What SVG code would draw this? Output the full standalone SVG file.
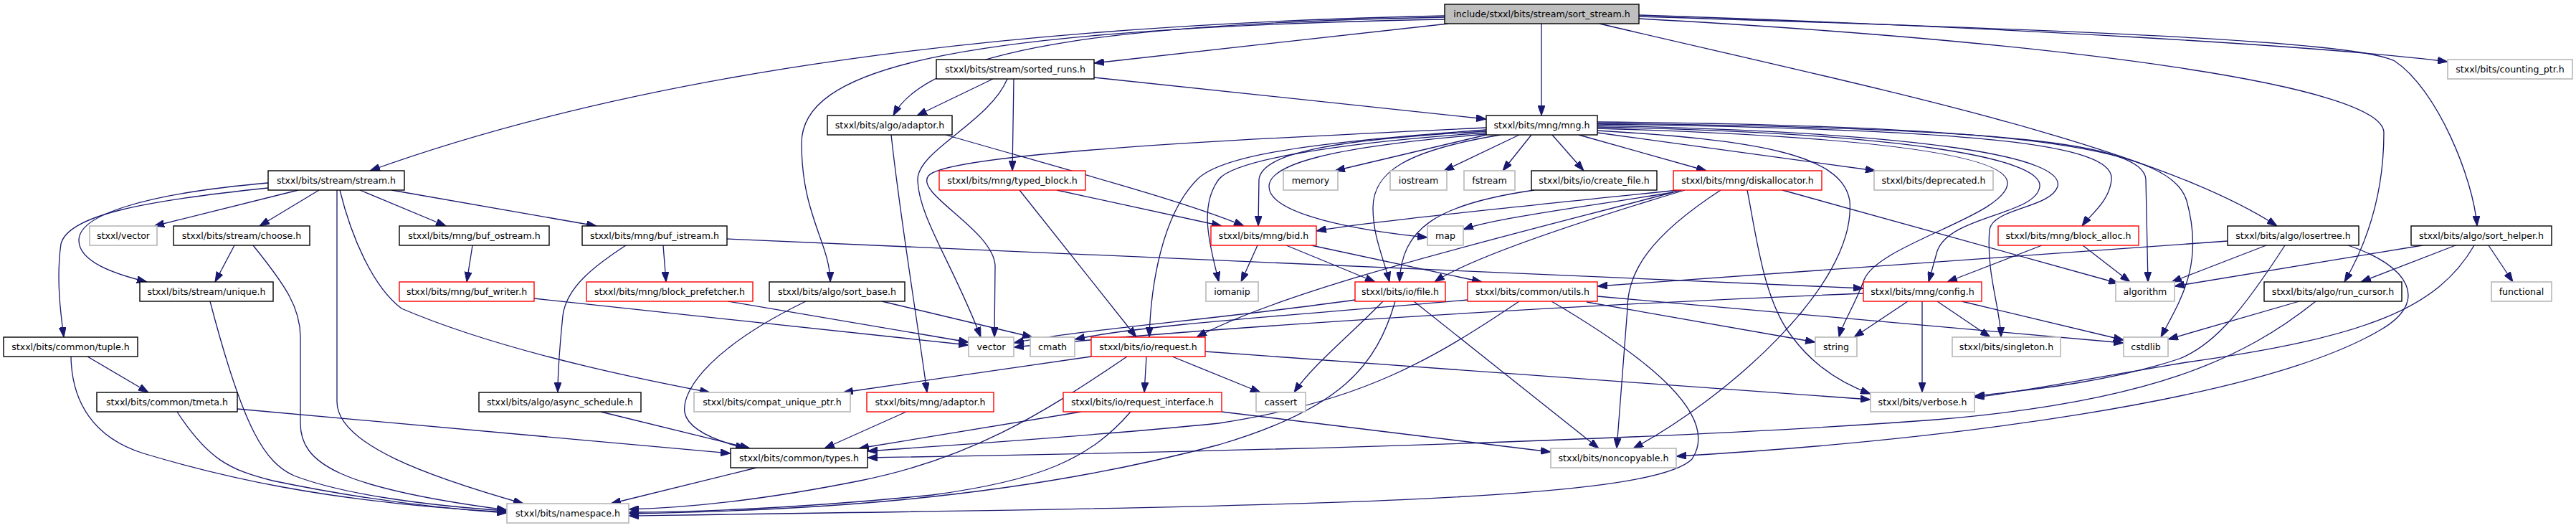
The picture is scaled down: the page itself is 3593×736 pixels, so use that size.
<svg xmlns="http://www.w3.org/2000/svg" width="3593" height="736" viewBox="0 0 3593 736">
<style>
.n rect{fill:#fff;stroke-width:1.4}
.k rect{stroke:#000}
.r rect{stroke:#ff0000}
.g rect{stroke:#bfbfbf;stroke-width:1.8}
.root rect{fill:#bfbfbf;stroke:#000}
.n text{font-family:"DejaVu Sans",sans-serif;font-size:12.6px;fill:#000;text-anchor:middle}
#edges path{fill:none;stroke:#191970;stroke-width:1.3;marker-end:url(#a)}
</style>
<defs>
<marker id="a" markerUnits="userSpaceOnUse" viewBox="0 0 14 10" markerWidth="14" markerHeight="10" refX="14" refY="5" orient="auto"><path d="M0,0 L14,5 L0,10 z" fill="#191970" stroke="#191970" stroke-width="1"/></marker>
</defs>
<rect x="0" y="0" width="3593" height="736" fill="#fff"/>
<g id="edges">
<path d="M2015,22 C1400,35 900,100 516,238"/>
<path d="M2015,24 C1600,32 1300,60 1246,161"/>
<path d="M2015,27 C1300,40 1118,100 1118,200 C1118,300 1158,340 1158,393"/>
<path d="M2020,33 L1526,88"/>
<path d="M2150,33 L2150,161"/>
<path d="M2231,33 C2600,120 3000,200 3176,315"/>
<path d="M2286,21 C2800,38 3250,65 3414,86"/>
<path d="M2286,23 C3000,45 3290,60 3340,85 C3400,125 3450,250 3455,315"/>
<path d="M2286,26 C2900,60 3325,120 3325,185 C3325,280 3295,350 3270,393"/>
<path d="M374,255 C200,270 110,300 110,335 C110,365 160,382 205,393"/>
<path d="M374,262 C200,280 95,300 85,340 C78,390 85,440 89,470"/>
<path d="M416,265 L215,315"/>
<path d="M445,265 L362,315"/>
<path d="M470,265 L470,560 C470,620 600,665 730,702"/>
<path d="M474,265 C490,330 520,400 560,430 C700,490 900,530 990,547"/>
<path d="M502,265 L622,315"/>
<path d="M546,265 L832,315"/>
<path d="M327,342 L300,393"/>
<path d="M353,342 C400,400 419,430 419,470 L419,590 C419,645 470,680 707,711"/>
<path d="M293,420 C340,600 370,645 410,663 C480,690 600,705 707,712"/>
<path d="M122,497 L207,547"/>
<path d="M99,497 C100,560 130,610 200,632 C300,662 450,700 707,714"/>
<path d="M247,574 C290,640 320,655 380,670 C500,695 600,708 707,715"/>
<path d="M331,570 L1019,632"/>
<path d="M659,342 L651,393"/>
<path d="M745,416 L1351,481"/>
<path d="M925,342 L929,393"/>
<path d="M873,342 C830,370 790,400 785,440 C780,490 778,520 778,547"/>
<path d="M1014,333 L2599,402"/>
<path d="M1015,420 L1351,477"/>
<path d="M838,574 L1046,625"/>
<path d="M1385,110 L1279,161"/>
<path d="M1405,110 C1380,170 1280,210 1280,250 C1280,300 1330,370 1368,470"/>
<path d="M1414,110 L1412,238"/>
<path d="M1526,108 L2073,166"/>
<path d="M1319,188 C1500,240 1650,280 1735,315"/>
<path d="M1243,188 C1255,300 1280,450 1293,547"/>
<path d="M1474,265 L1704,315"/>
<path d="M1422,265 L1585,470"/>
<path d="M1230,420 L1440,470"/>
<path d="M1124,420 C1000,480 950,540 955,575 C960,600 1000,615 1040,625"/>
<path d="M1264,574 L1150,625"/>
<path d="M2073,178 C1700,195 1320,215 1295,245 C1275,270 1385,320 1388,370 L1387,470"/>
<path d="M2073,181 C1800,200 1700,220 1670,250 C1620,300 1605,400 1603,470"/>
<path d="M2073,183 C1850,195 1760,215 1756,250 L1755,315"/>
<path d="M2073,185 C1850,200 1720,225 1700,250 C1670,290 1690,350 1700,393"/>
<path d="M2073,187 C1850,205 1770,230 1770,260 C1770,300 1900,322 1991,331"/>
<path d="M2073,188 L1862,238"/>
<path d="M2093,188 C1960,210 1915,240 1915,290 C1915,330 1930,360 1938,393"/>
<path d="M2119,188 L2014,238"/>
<path d="M2136,188 L2096,238"/>
<path d="M2165,188 L2209,238"/>
<path d="M2202,188 L2380,238"/>
<path d="M2228,185 L2616,238"/>
<path d="M2228,182 C2450,195 2570,215 2580,280 C2590,400 2400,560 2278,625"/>
<path d="M2228,179 C2600,190 2800,215 2800,255 C2800,300 2620,340 2600,390 C2585,430 2570,450 2565,470"/>
<path d="M2228,177 C2650,185 2850,220 2845,260 C2840,300 2720,300 2702,350 L2690,393"/>
<path d="M2228,175 C2700,185 2880,220 2870,260 C2860,290 2780,290 2775,320 C2770,380 2790,430 2791,470"/>
<path d="M2228,173 C2750,180 2950,200 2945,250 C2943,280 2915,300 2904,315"/>
<path d="M2228,172 C2800,178 2990,200 2993,250 L2996,393"/>
<path d="M2228,170 C2850,175 3030,210 3050,280 C3075,370 3040,420 3014,470"/>
<path d="M1754,342 L1731,393"/>
<path d="M1794,342 L1918,393"/>
<path d="M1829,342 L2067,393"/>
<path d="M2140,265 C2000,285 1955,320 1952,393"/>
<path d="M2340,265 C2100,290 1900,310 1836,322"/>
<path d="M2334,268 C2200,290 2080,305 2041,320"/>
<path d="M2350,265 C2200,310 2050,360 2001,393"/>
<path d="M2345,265 C2100,330 1800,400 1669,470"/>
<path d="M2400,265 C2300,330 2270,380 2270,430 L2255,625"/>
<path d="M2437,265 C2450,330 2460,420 2500,470 C2530,510 2570,535 2609,549"/>
<path d="M2486,265 L2955,395"/>
<path d="M1890,418 C1700,445 1500,460 1414,478"/>
<path d="M1929,420 C1880,470 1830,510 1805,547"/>
<path d="M1946,420 C1920,510 1870,570 1700,620 C1400,700 1100,712 877,716"/>
<path d="M1972,420 L2230,625"/>
<path d="M2047,418 C1800,440 1600,452 1499,473"/>
<path d="M2119,420 C2000,500 1900,560 1700,590 C1500,610 1300,622 1210,629"/>
<path d="M2164,420 C2300,500 2400,580 2360,640 C2300,700 1800,706 877,719"/>
<path d="M2213,421 L2532,477"/>
<path d="M2228,413 L2962,478"/>
<path d="M2599,409 C2200,425 1700,455 1414,484"/>
<path d="M2661,420 L2586,470"/>
<path d="M2681,420 L2681,547"/>
<path d="M2702,420 L2776,470"/>
<path d="M2736,420 L2962,474"/>
<path d="M2848,342 L2716,393"/>
<path d="M2905,342 L2971,393"/>
<path d="M3107,336 L2228,399"/>
<path d="M3161,342 L3029,393"/>
<path d="M3187,342 C3130,430 3090,480 3040,500 C2950,530 2850,542 2754,552"/>
<path d="M3275,342 C3360,370 3390,420 3320,460 C3150,560 2700,615 2338,636"/>
<path d="M3207,420 L3024,473"/>
<path d="M3230,420 C3130,500 3000,560 2700,585 C2300,615 1700,630 1210,638"/>
<path d="M3379,342 L3033,399"/>
<path d="M3425,342 L3293,393"/>
<path d="M3451,342 C3400,430 3300,470 3050,505 C2900,530 2820,546 2754,554"/>
<path d="M3471,342 L3505,393"/>
<path d="M1522,497 L1176,547"/>
<path d="M1572,497 C1450,580 1350,640 1200,670 C1050,700 950,708 877,710"/>
<path d="M1599,497 L1596,547"/>
<path d="M1635,497 L1758,547"/>
<path d="M1681,490 L2609,557"/>
<path d="M1508,574 L1198,625"/>
<path d="M1577,574 C1520,640 1450,670 1300,690 C1100,710 950,714 877,714"/>
<path d="M1704,574 L2163,630"/>
<path d="M1055,652 L852,702"/>
</g>
<g id="n_root" class="n root"><rect x="2015" y="6" width="271" height="27"/><text x="2150.5" y="24">include/stxxl/bits/stream/sort_stream.h</text></g>
<g id="n_stream" class="n k"><rect x="374" y="238" width="190" height="27"/><text x="469" y="256">stxxl/bits/stream/stream.h</text></g>
<g id="n_sorted_runs" class="n k"><rect x="1306" y="83" width="220" height="27"/><text x="1416" y="101">stxxl/bits/stream/sorted_runs.h</text></g>
<g id="n_algo_adaptor" class="n k"><rect x="1154" y="161" width="174" height="27"/><text x="1241" y="179">stxxl/bits/algo/adaptor.h</text></g>
<g id="n_mng" class="n k"><rect x="2073" y="161" width="155" height="27"/><text x="2150.5" y="179">stxxl/bits/mng/mng.h</text></g>
<g id="n_sort_base" class="n k"><rect x="1073" y="393" width="189" height="27"/><text x="1167.5" y="411">stxxl/bits/algo/sort_base.h</text></g>
<g id="n_losertree" class="n k"><rect x="3107" y="315" width="183" height="27"/><text x="3198.5" y="333">stxxl/bits/algo/losertree.h</text></g>
<g id="n_run_cursor" class="n k"><rect x="3158" y="393" width="192" height="27"/><text x="3254" y="411">stxxl/bits/algo/run_cursor.h</text></g>
<g id="n_sort_helper" class="n k"><rect x="3363" y="315" width="196" height="27"/><text x="3461" y="333">stxxl/bits/algo/sort_helper.h</text></g>
<g id="n_counting_ptr" class="n g"><rect x="3414" y="83" width="174" height="27"/><text x="3501" y="101">stxxl/bits/counting_ptr.h</text></g>
<g id="n_stxxl_vector" class="n g"><rect x="125" y="315" width="94" height="27"/><text x="172" y="333">stxxl/vector</text></g>
<g id="n_choose" class="n k"><rect x="242" y="315" width="190" height="27"/><text x="337" y="333">stxxl/bits/stream/choose.h</text></g>
<g id="n_buf_ostream" class="n k"><rect x="557" y="315" width="209" height="27"/><text x="661.5" y="333">stxxl/bits/mng/buf_ostream.h</text></g>
<g id="n_buf_istream" class="n k"><rect x="812" y="315" width="202" height="27"/><text x="913" y="333">stxxl/bits/mng/buf_istream.h</text></g>
<g id="n_unique" class="n k"><rect x="195" y="393" width="186" height="27"/><text x="288" y="411">stxxl/bits/stream/unique.h</text></g>
<g id="n_tuple" class="n k"><rect x="5" y="470" width="187" height="27"/><text x="98.5" y="488">stxxl/bits/common/tuple.h</text></g>
<g id="n_tmeta" class="n k"><rect x="135" y="547" width="196" height="27"/><text x="233" y="565">stxxl/bits/common/tmeta.h</text></g>
<g id="n_buf_writer" class="n r"><rect x="557" y="393" width="188" height="27"/><text x="651" y="411">stxxl/bits/mng/buf_writer.h</text></g>
<g id="n_block_prefetcher" class="n r"><rect x="818" y="393" width="232" height="27"/><text x="934" y="411">stxxl/bits/mng/block_prefetcher.h</text></g>
<g id="n_async_schedule" class="n k"><rect x="668" y="547" width="226" height="27"/><text x="781" y="565">stxxl/bits/algo/async_schedule.h</text></g>
<g id="n_namespace" class="n g"><rect x="707" y="702" width="170" height="27"/><text x="792" y="720">stxxl/bits/namespace.h</text></g>
<g id="n_typed_block" class="n r"><rect x="1310" y="238" width="204" height="27"/><text x="1412" y="256">stxxl/bits/mng/typed_block.h</text></g>
<g id="n_bid" class="n r"><rect x="1689" y="315" width="147" height="27"/><text x="1762.5" y="333">stxxl/bits/mng/bid.h</text></g>
<g id="n_iomanip" class="n g"><rect x="1682" y="393" width="73" height="27"/><text x="1718.5" y="411">iomanip</text></g>
<g id="n_vector" class="n g"><rect x="1351" y="470" width="63" height="27"/><text x="1382.5" y="488">vector</text></g>
<g id="n_cmath" class="n g"><rect x="1437" y="470" width="62" height="27"/><text x="1468" y="488">cmath</text></g>
<g id="n_request" class="n r"><rect x="1522" y="470" width="159" height="27"/><text x="1601.5" y="488">stxxl/bits/io/request.h</text></g>
<g id="n_compat_unique_ptr" class="n g"><rect x="968" y="547" width="218" height="27"/><text x="1077" y="565">stxxl/bits/compat_unique_ptr.h</text></g>
<g id="n_mng_adaptor" class="n r"><rect x="1209" y="547" width="177" height="27"/><text x="1297.5" y="565">stxxl/bits/mng/adaptor.h</text></g>
<g id="n_request_interface" class="n r"><rect x="1483" y="547" width="221" height="27"/><text x="1593.5" y="565">stxxl/bits/io/request_interface.h</text></g>
<g id="n_cassert" class="n g"><rect x="1752" y="547" width="69" height="27"/><text x="1786.5" y="565">cassert</text></g>
<g id="n_types" class="n k"><rect x="1019" y="625" width="191" height="27"/><text x="1114.5" y="643">stxxl/bits/common/types.h</text></g>
<g id="n_memory" class="n g"><rect x="1790" y="238" width="76" height="27"/><text x="1828" y="256">memory</text></g>
<g id="n_iostream" class="n g"><rect x="1939" y="238" width="79" height="27"/><text x="1978.5" y="256">iostream</text></g>
<g id="n_fstream" class="n g"><rect x="2042" y="238" width="71" height="27"/><text x="2077.5" y="256">fstream</text></g>
<g id="n_create_file" class="n k"><rect x="2136" y="238" width="175" height="27"/><text x="2223.5" y="256">stxxl/bits/io/create_file.h</text></g>
<g id="n_diskallocator" class="n r"><rect x="2334" y="238" width="207" height="27"/><text x="2437.5" y="256">stxxl/bits/mng/diskallocator.h</text></g>
<g id="n_deprecated" class="n g"><rect x="2614" y="238" width="166" height="27"/><text x="2697" y="256">stxxl/bits/deprecated.h</text></g>
<g id="n_map" class="n g"><rect x="1991" y="315" width="50" height="27"/><text x="2016" y="333">map</text></g>
<g id="n_file" class="n r"><rect x="1890" y="393" width="126" height="27"/><text x="1953" y="411">stxxl/bits/io/file.h</text></g>
<g id="n_utils" class="n r"><rect x="2047" y="393" width="181" height="27"/><text x="2137.5" y="411">stxxl/bits/common/utils.h</text></g>
<g id="n_config" class="n r"><rect x="2599" y="393" width="165" height="27"/><text x="2681.5" y="411">stxxl/bits/mng/config.h</text></g>
<g id="n_string" class="n g"><rect x="2532" y="470" width="58" height="27"/><text x="2561" y="488">string</text></g>
<g id="n_verbose" class="n g"><rect x="2609" y="547" width="145" height="27"/><text x="2681.5" y="565">stxxl/bits/verbose.h</text></g>
<g id="n_noncopyable" class="n g"><rect x="2163" y="625" width="175" height="27"/><text x="2250.5" y="643">stxxl/bits/noncopyable.h</text></g>
<g id="n_block_alloc" class="n r"><rect x="2787" y="315" width="196" height="27"/><text x="2885" y="333">stxxl/bits/mng/block_alloc.h</text></g>
<g id="n_algorithm" class="n g"><rect x="2951" y="393" width="82" height="27"/><text x="2992" y="411">algorithm</text></g>
<g id="n_functional" class="n g"><rect x="3475" y="393" width="84" height="27"/><text x="3517" y="411">functional</text></g>
<g id="n_singleton" class="n g"><rect x="2723" y="470" width="151" height="27"/><text x="2798.5" y="488">stxxl/bits/singleton.h</text></g>
<g id="n_cstdlib" class="n g"><rect x="2962" y="470" width="62" height="27"/><text x="2993" y="488">cstdlib</text></g>
</svg>
